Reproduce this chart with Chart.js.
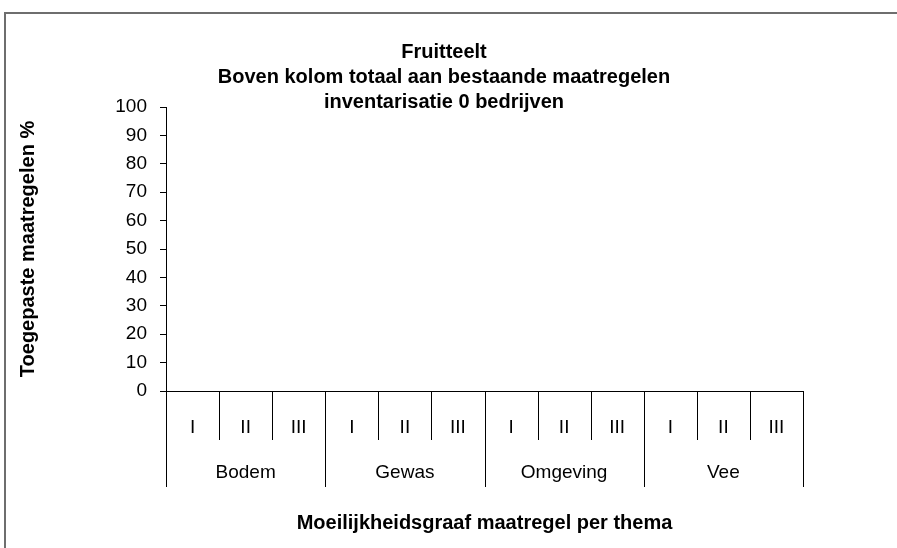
<!DOCTYPE html>
<html>
<head>
<meta charset="utf-8">
<script src="https://cdn.jsdelivr.net/npm/chart.js@4"></script>
<style>
    html, body { margin: 0; padding: 0; background: #fff; }
    #wrap { position: absolute; left: 0; top: 0; width: 897px; height: 548px; }
    #frame { position: absolute; left: 4px; top: 12px; right: 0; bottom: 0;
             border-top: 2px solid #6e6e6e; border-left: 2px solid #6e6e6e; }
    canvas { position: absolute; left: 0; top: 0; }
</style>
</head>
<body>
<div id="wrap">
    <div id="frame"></div>
    <canvas id="myChart" width="897" height="548"></canvas>
</div>
<script>
// chart data
const titleLines = ['Fruitteelt', 'Boven kolom totaal aan bestaande maatregelen', 'inventarisatie 0 bedrijven'];
const themes = ['Bodem', 'Gewas', 'Omgeving', 'Vee'];
const grades = ['I', 'II', 'III'];
const values = [0, 0, 0, 0, 0, 0, 0, 0, 0, 0, 0, 0]; // 0 bedrijven, so every column is empty
const yTicks = [0, 10, 20, 30, 40, 50, 60, 70, 80, 90, 100];
const xTitle = 'Moeilijkheidsgraaf maatregel per thema';
const yTitle = 'Toegepaste maatregelen %';

const labels = [];
themes.forEach(() => grades.forEach(g => labels.push(g)));

const FONT = 'Arial, "Liberation Sans", sans-serif';

// chart title, centred on the whole chart box rather than the plot
const chartTitle = {
    id: 'chartTitle',
    afterDraw(chart) {
        const ctx = chart.ctx;
        ctx.save();
        ctx.fillStyle = '#000';
        ctx.font = 'bold 20px ' + FONT;
        ctx.textAlign = 'center';
        ctx.textBaseline = 'middle';
        titleLines.forEach((line, i) => {
            ctx.fillText(line, 444, 52 + i * 25);
        });
        ctx.restore();
    }
};

// draws the boxes under the x axis and the theme names
const groupAxis = {
    id: 'groupAxis',
    afterDraw(chart) {
        const x = chart.scales.x;
        const ctx = chart.ctx;
        const step = (x.right - x.left) / labels.length;
        const y0 = x.top;
        ctx.save();
        ctx.strokeStyle = '#000';
        ctx.lineWidth = 1;
        for (let i = 0; i <= labels.length; i++) {
            const px = Math.round(x.left + i * step) + 0.5;
            const major = i % grades.length === 0;
            ctx.beginPath();
            ctx.moveTo(px, y0);
            ctx.lineTo(px, y0 + (major ? 96 : 49));
            ctx.stroke();
        }
        ctx.fillStyle = '#000';
        ctx.font = '19px ' + FONT;
        ctx.textAlign = 'center';
        ctx.textBaseline = 'middle';
        themes.forEach((t, k) => {
            const a = x.getPixelForValue(k * grades.length);
            const b = x.getPixelForValue(k * grades.length + grades.length - 1);
            ctx.fillText(t, (a + b) / 2, y0 + 82);
        });
        ctx.restore();
    }
};

const ctx = document.getElementById('myChart').getContext('2d');
new Chart(ctx, {
    type: 'bar',
    data: {
        labels: labels,
        datasets: [{
            data: values,
            backgroundColor: '#9999ff',
            borderColor: '#000',
            borderWidth: 1
        }]
    },
    options: {
        responsive: false,
        animation: false,
        layout: { padding: { left: 0, right: 94, top: 107, bottom: 0 } },
        plugins: {
            legend: { display: false },
            tooltip: { enabled: false },
            title: { display: false }
        },
        scales: {
            x: {
                grid: { display: false, drawTicks: false },
                border: { display: true, color: '#000', width: 1 },
                ticks: { color: '#000', font: { family: FONT, size: 19 }, padding: 25, maxRotation: 0, autoSkip: false },
                title: {
                    display: true, text: xTitle, color: '#000',
                    font: { family: FONT, size: 20, weight: 'bold', lineHeight: 1.2 },
                    padding: { top: 0, bottom: 13 }
                },
                afterFit(scale) { scale.height = 548 - 391; }
            },
            y: {
                min: 0,
                max: 100,
                afterBuildTicks(scale) { scale.ticks = yTicks.map(v => ({ value: v })); },
                grid: { drawOnChartArea: false, color: '#000', tickLength: 6 },
                border: { display: true, color: '#000', width: 1 },
                ticks: { color: '#000', font: { family: FONT, size: 19 }, padding: 13 },
                title: {
                    display: true, text: yTitle, color: '#000',
                    font: { family: FONT, size: 20, weight: 'bold', lineHeight: 1.2 },
                    padding: { top: 16, bottom: 0 }
                },
                afterFit(scale) { scale.width = 166; }
            }
        }
    },
    plugins: [chartTitle, groupAxis]
});
</script>
</body>
</html>
